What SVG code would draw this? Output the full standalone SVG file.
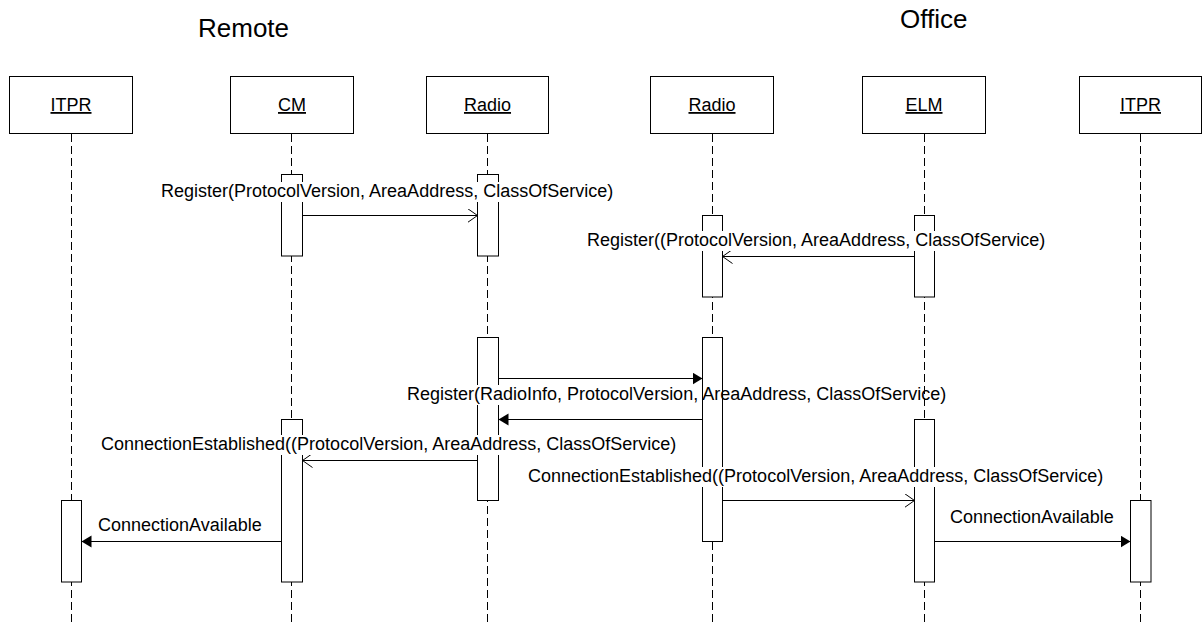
<svg xmlns="http://www.w3.org/2000/svg" width="1202" height="623" viewBox="0 0 1202 623">
  <style>
    text { font-family: "Liberation Sans", Arial, sans-serif; fill: #000; }
    .title { font-size: 26px; }
    .head { font-size: 18px; text-anchor: middle; text-decoration: underline; }
    .lbl { font-size: 18px; }
    .box { fill: #fff; stroke: #000; stroke-width: 1; }
    .life { stroke: #000; stroke-width: 1; stroke-dasharray: 8 4; fill: none; }
    .bar { fill: #fff; stroke: #000; stroke-width: 1; }
    .msg { stroke: #000; stroke-width: 1; fill: none; }
    .open { marker-end: url(#openHead); }
    .solid { marker-end: url(#solidHead); }
    .bg { fill: #fff; stroke: none; }
  </style>
  <defs>
    <marker id="openHead" markerUnits="userSpaceOnUse" markerWidth="12" markerHeight="16" refX="10" refY="7" orient="auto">
      <path d="M0,0 L10,7 L0,14" fill="none" stroke="#000" stroke-width="1"/>
    </marker>
    <marker id="solidHead" markerUnits="userSpaceOnUse" markerWidth="12" markerHeight="14" refX="10" refY="6" orient="auto">
      <path d="M0,0 L10,6 L0,12 z" fill="#000"/>
    </marker>
  </defs>

  <rect width="1202" height="623" fill="#fff"/>

  <!-- side titles -->
  <text class="title" x="198" y="37">Remote</text>
  <text class="title" x="900" y="28">Office</text>

  <!-- remote ITPR -->
  <g id="itpr-remote">
    <line class="life" x1="71.5" y1="134" x2="71.5" y2="623"/>
    <rect class="box" x="9.5" y="76.5" width="123" height="57"/>
    <text class="head" x="71" y="111">ITPR</text>
    <rect class="bar" x="61.5" y="500.5" width="20" height="81.5"/>
  </g>

  <!-- CM -->
  <g id="cm">
    <line class="life" x1="291.5" y1="134" x2="291.5" y2="623"/>
    <rect class="box" x="230.5" y="76.5" width="123" height="57"/>
    <text class="head" x="292" y="111">CM</text>
    <rect class="bar" x="281.5" y="174.5" width="21" height="81.5"/>
    <rect class="bar" x="281.5" y="419.5" width="21" height="162.5"/>
  </g>

  <!-- remote Radio -->
  <g id="radio-remote">
    <line class="life" x1="487.5" y1="134" x2="487.5" y2="623"/>
    <rect class="box" x="426.5" y="76.5" width="122" height="57"/>
    <text class="head" x="487.5" y="111">Radio</text>
    <rect class="bar" x="477.5" y="174.5" width="21" height="81.5"/>
    <rect class="bar" x="477.5" y="337.5" width="21" height="163"/>
  </g>

  <!-- office Radio -->
  <g id="radio-office">
    <line class="life" x1="712.5" y1="134" x2="712.5" y2="623"/>
    <rect class="box" x="650.5" y="76.5" width="123" height="57"/>
    <text class="head" x="712" y="111">Radio</text>
    <rect class="bar" x="702.5" y="215.5" width="20" height="81.5"/>
    <rect class="bar" x="702.5" y="337.5" width="20" height="204"/>
  </g>

  <!-- ELM -->
  <g id="elm">
    <line class="life" x1="924.5" y1="134" x2="924.5" y2="623"/>
    <rect class="box" x="862.5" y="76.5" width="123" height="57"/>
    <text class="head" x="924" y="111">ELM</text>
    <rect class="bar" x="914.5" y="215.5" width="20" height="81.5"/>
    <rect class="bar" x="914.5" y="419.5" width="20" height="162.5"/>
  </g>

  <!-- office ITPR -->
  <g id="itpr-office">
    <line class="life" x1="1140.5" y1="134" x2="1140.5" y2="623"/>
    <rect class="box" x="1079.5" y="76.5" width="122" height="57"/>
    <text class="head" x="1140.5" y="111">ITPR</text>
    <rect class="bar" x="1130.5" y="500.5" width="20.5" height="81.5"/>
  </g>

  <!-- messages -->
  <g id="messages">
    <line class="msg open" x1="302.5" y1="215.5" x2="477.5" y2="215.5"/>
    <rect class="bg" x="160" y="182" width="457" height="20"/>
    <text class="lbl" x="161" y="197">Register(ProtocolVersion, AreaAddress, ClassOfService)</text>

    <line class="msg open" x1="914.5" y1="256.5" x2="722.5" y2="256.5"/>
    <rect class="bg" x="586" y="231" width="463" height="20"/>
    <text class="lbl" x="587" y="246">Register((ProtocolVersion, AreaAddress, ClassOfService)</text>

    <line class="msg solid" x1="498.5" y1="378.5" x2="702.5" y2="378.5"/>
    <line class="msg solid" x1="702.5" y1="419.5" x2="498.5" y2="419.5"/>
    <rect class="bg" x="406" y="385" width="295" height="20"/>
    <text class="lbl" x="407" y="400">Register(RadioInfo, ProtocolVersion, AreaAddress, ClassOfService)</text>

    <line class="msg open" x1="477.5" y1="460.5" x2="302.5" y2="460.5"/>
    <rect class="bg" x="100" y="435" width="580" height="20"/>
    <text class="lbl" x="101" y="450">ConnectionEstablished((ProtocolVersion, AreaAddress, ClassOfService)</text>

    <line class="msg open" x1="722.5" y1="500.5" x2="914.5" y2="500.5"/>
    <rect class="bg" x="527" y="467" width="580" height="20"/>
    <text class="lbl" x="528" y="482">ConnectionEstablished((ProtocolVersion, AreaAddress, ClassOfService)</text>

    <line class="msg solid" x1="281.5" y1="541.5" x2="81.5" y2="541.5"/>
    <text class="lbl" x="98" y="531">ConnectionAvailable</text>

    <line class="msg solid" x1="934.5" y1="541.5" x2="1130.5" y2="541.5"/>
    <text class="lbl" x="950" y="523">ConnectionAvailable</text>
  </g>
</svg>
